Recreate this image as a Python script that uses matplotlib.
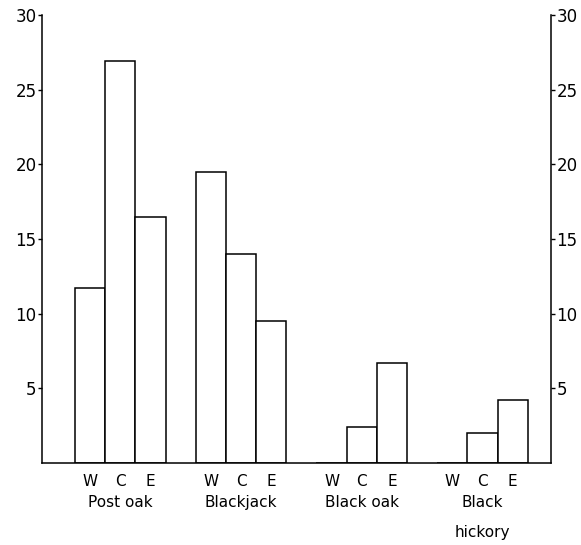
import matplotlib.pyplot as plt
import matplotlib.transforms as mtransforms

# values (same scale on both axes)
species = ["Post oak", "Blackjack", "Black oak", "Black\nhickory"]
regions = ["W", "C", "E"]
west = [11.7, 19.5, 0.0, 0.0]
central = [26.9, 14.0, 2.4, 2.0]
east = [16.5, 9.5, 6.7, 4.2]
yticks = [5, 10, 15, 20, 25, 30]

fig = plt.figure(figsize=(5.81, 5.45), dpi=100)
ax = fig.add_axes([0.0723, 0.1505, 0.8757, 0.822])

group_step = 4.0
bar_w = 1.0
centers = []
labels = []
for i, vals in enumerate(zip(west, central, east)):
    for j, v in enumerate(vals):
        x = i * group_step + j * bar_w + bar_w / 2
        ax.bar(x, v, width=bar_w, color="white", edgecolor="black",
               linewidth=1.1)
        centers.append(x)
        labels.append(regions[j])

ax.set_xlim(-1.09, 15.76)
ax.set_ylim(0, 30)

ax.set_xticks(centers)
ax.set_xticklabels(labels, fontsize=11)
ax.tick_params(axis="x", length=0, pad=8)

ax.set_yticks(yticks)
ax.set_yticklabels([str(t) for t in yticks], fontsize=12)
ax.tick_params(axis="y", direction="out", length=3, width=1, pad=1,
               right=True, labelright=True)

ax.spines["top"].set_visible(False)
for s in ["left", "right", "bottom"]:
    ax.spines[s].set_linewidth(1.1)

# species names under each W C E group
trans = mtransforms.blended_transform_factory(ax.transData, ax.transAxes)
for i, name in enumerate(species):
    xc = i * group_step + 1.5 * bar_w
    ax.text(xc, -0.072, name, transform=trans, ha="center", va="top",
            fontsize=11, linespacing=2.2)

plt.savefig("out.png", dpi=100)
